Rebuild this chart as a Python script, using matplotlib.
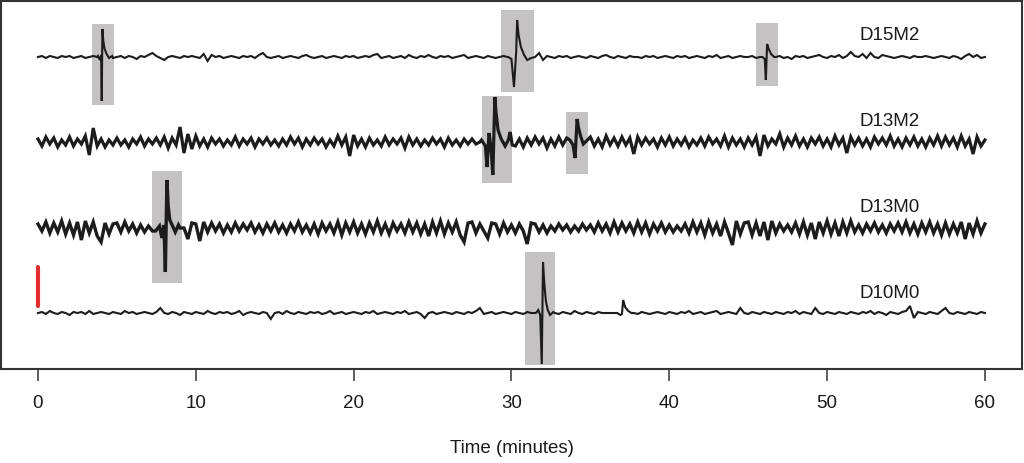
import numpy as np
import matplotlib
matplotlib.use('Agg')
import matplotlib.pyplot as plt
from matplotlib.patches import Rectangle

plt.rcParams['font.family'] = ['Liberation Sans', 'DejaVu Sans']

trace_names = ['D15M2', 'D13M2', 'D13M0', 'D10M0']
baselines = [312, 227, 141, 56]
label_y = [334, 247, 162, 76]
line_widths = [1.5, 2.3, 2.4, 1.5]

# background noise, one value every 0.25 min (0..60)
t_base = np.arange(241) * 0.25

d15m2 = [0, 1, -1, 1, 0, -1, 1, 0, 1, -1, 0, 1, -1, 0, 1, 0, -2, 1, 0, -1,
         0, 1, -1, 1, 0, -2, 1, 0, 2, 4, 1, -1, -3, 0, 1, 0, -1, 1, 0, 1,
         0, -1, 3, -4, 2, 0, 1, -1, 0, 1, 0, -1, 1, 0, 1, -1, 2, 4, 0, -1,
         0, 1, -1, 0, 1, 0, -1, 1, 2, 0, -1, 0, 1, -1, 0, 1, 0, -1, 1, 0,
         1, -1, 0, 1, 0, 2, 3, -1, 0, 1, -1, 0, 1, -1, 2, 0, -1, 1, 0, 2,
         0, -1, 1, 0, 1, -1, 0, 1, 2, -1, 0, 1, 0, -1, 1, 0, -1, 0, 1, 0,
         0, 0, 0, 0, 0, 0, 0, 4, -3, 1, 0, -1, 1, 0, 1, -1, 0, 1, 0, -1,
         1, 0, -1, 1, 2, 0, -1, 1, 0, -1, 1, 0, 0, -1, 1, 0, 1, -1, 0, 1,
         0, -1, 1, 0, 1, -1, 0, 1, 0, -1, 1, 0, 2, -1, 0, 1, -1, 0, 1, 0,
         0, 1, -1, 0, 0, 0, 0, 0, 1, -1, 0, -2, 1, 0, 1, -1, 0, 1, 2, 0,
         -1, 1, 0, 2, -1, 1, 5, 1, 0, 3, -1, 4, 0, -1, 2, 1, 0, -1, 0, 1,
         0, -1, 1, 0, 0, 1, 0, -1, 0, 1, 0, -1, 1, 0, -2, 1, 3, 0, 2, -1,
         0]

d13m2 = [3, -4, 5, -2, 4, -5, 2, -3, 5, -4, 3, -2, 6, -13, 14, -4, 3, -5, 2, -3,
         4, -3, 2, -5, 3, -2, 5, -4, 3, -2, 4, -3, 5, -6, 4, -3, 15, -11, 8, -7,
         6, -4, 3, -5, 4, -2, 3, -4, 2, -3, 5, -4, 3, -2, 4, -5, 3, -2, 4, -3,
         2, -4, 3, -3, 5, -2, 4, -5, 3, -3, 4, -2, 3, -5, 2, -4, 6, -3, 5, -14,
         7, -4, 3, -5, 4, -3, 2, -4, 5, -3, 3, -2, 4, -6, 5, -3, 3, -4, 2, -3,
         4, -2, 3, -5, 4, -3, 2, -4, 3, -2, 3, -2, 0, 0, 0, 0, 0, 0, 0, 0,
         0, -4, 3, -5, 4, -3, 5, -2, 4, -6, 3, -4, 5, -3, 4, -5, 0, 0, 0, -3,
         5, -4, 3, -5, 6, -3, 4, -4, 5, -3, 4, -12, 5, -3, 4, -2, 3, -5, 4, -3,
         5, -4, 3, -3, 4, -5, 2, -3, 4, -4, 5, -2, 3, -4, 6, -5, 4, -3, 3, -5,
         4, -3, 5, -14, 7, -4, 3, -2, 8, -5, 4, -3, 6, -4, 3, -5, 4, -2, 5, -4,
         3, -5, 6, -3, 4, -11, 5, -3, 4, -4, 3, -5, 5, -2, 4, -3, 6, -4, 3, -5,
         4, -3, 5, -4, 3, -5, 4, -3, 6, -4, 5, -3, 4, -5, 6, -4, 3, -12, 5, -4,
         2]

d13m0 = [4, -3, 6, -5, 5, -4, 7, -6, 5, -7, 6, -12, 7, -5, 6, -8, -14, 5, -6, 4,
         5, -4, 6, -3, 4, -5, 3, -4, 2, -3, 0, 0, 0, 0, 0, 0, 0, 0, -11, 5,
         4, -13, 6, -4, 5, -3, 4, -5, 3, -4, 5, -3, 4, -2, 5, -4, 3, -5, 4, -3,
         5, -4, 3, -5, 4, -3, 6, -4, 3, -5, 4, -6, 5, -3, 4, -5, 6, -7, 5, -4,
         6, -5, 4, -6, 5, -4, 7, -5, 4, -6, 5, -3, 4, -5, 6, -4, 5, -6, 4, -8,
         6, -5, 7, -6, 5, -4, 6, -7, -14, 5, 6, -5, 4, -3, -10, 5, 4, -6, 5, -4,
         3, -5, 4, -3, -16, 5, 4, -4, 3, -5, 2, -3, 4, -2, 3, -4, 2, -3, 4, -2,
         3, -4, 5, -3, 4, -5, 6, -4, 5, -3, 4, -5, 6, -4, 5, -6, 4, -3, 5, -4,
         3, -4, 2, -3, 4, -5, 6, -4, 5, -7, 6, -5, 4, -8, 6, -5, -17, 7, -6, 5,
         6, -7, 5, -8, 6, -12, 7, -5, 4, -3, 3, -4, 5, -6, 6, -7, 5, -11, 6, -5,
         7, -6, 5, -8, 6, -5, 7, -4, 3, -5, 4, -3, 5, -4, 3, -5, 4, -3, 5, -4,
         6, -5, 4, -6, 5, -4, 6, -5, 4, -7, 5, -6, 4, -5, 6, -11, 5, -6, 7, -5,
         4]

d10m0 = [0, 1, -1, 2, 0, -1, 1, 0, -2, 1, 0, 1, -1, 2, -1, 0, 1, 0, -1, 1,
         0, -1, 2, 0, 1, -1, 0, 1, 0, -1, 1, 5, 0, -1, 1, 0, -2, 1, 0, -1,
         1, 0, -1, 2, 0, -1, 1, 0, 1, -1, 0, 2, -2, 0, 1, 0, -1, 1, 0, -6,
         0, 1, -1, 2, 0, -1, 1, 0, -1, 1, 0, 1, -1, 0, 2, -1, 0, 1, -1, 0,
         1, 0, -1, 1, 0, 2, -1, 0, 1, 0, -1, 1, 0, 2, -1, 0, 1, -1, -5, 0,
         1, -1, 0, 1, 0, -1, 1, 0, -1, 1, 0, 2, 5, -1, 0, 1, -1, 0, 1, 0,
         -1, 1, 0, -1, 1, 0, 0, 0, 0, 0, 0, 0, -1, 1, 0, -1, 2, 0, -1, 1,
         0, -1, 1, 0, 0, 0, 0, 0, 0, -1, 1, 0, -1, 1, 0, -1, 0, 1, 0, -1,
         1, 0, -1, 1, 0, 2, -1, 0, 1, -1, 0, 1, 2, -1, 0, 1, 0, -1, 5, 0,
         -1, 1, 0, -1, 1, 0, -1, 1, 0, -1, 1, 0, 2, -1, 1, 0, -1, 5, 0, -1,
         1, 0, -1, 1, 0, -1, 1, 0, -1, 1, 0, 2, -1, 1, 0, -2, 1, 0, -1, 1,
         2, 7, -5, 1, 0, -1, 1, 0, -1, 2, 5, 0, -1, 1, 0, -1, 1, 0, -1, 1,
         0]

# spike events: (times, values) per trace
spikes = {
    'D15M2': [([3.80, 3.92, 4.00, 4.04, 4.08, 4.14, 4.22, 4.35, 4.50, 4.70],
               [1, -3, 2, -44, 28, 16, 8, 3, -1, 1]),
              ([29.80, 30.00, 30.16, 30.30, 30.36, 30.45, 30.60, 30.80, 31.00, 31.25],
               [0, -2, -30, 5, 37, 22, 10, 2, -3, -1]),
              ([45.90, 46.05, 46.12, 46.20, 46.30, 46.45, 46.65],
               [0, -2, -23, 13, 8, 3, 0])],
    'D13M2': [([28.10, 28.35, 28.45, 28.58, 28.70, 28.82, 28.95, 29.02, 29.15, 29.35, 29.60, 29.80, 29.92, 30.05],
               [2, -4, -25, 9, -5, -33, 45, 30, 12, 3, -4, 2, 10, -3]),
              ([33.70, 33.90, 34.03, 34.16, 34.25, 34.40, 34.55, 34.75],
               [2, -3, -16, 23, 14, 5, -2, 1])],
    'D13M0': [([7.45, 7.70, 7.85, 7.98, 8.07, 8.17, 8.25, 8.35, 8.50, 8.70, 8.90],
               [-3, 2, -10, 3, -44, 48, 22, 8, 3, -4, 3])],
    'D10M0': [([31.55, 31.70, 31.82, 31.92, 32.00, 32.08, 32.18, 32.30, 32.45, 32.65],
               [0, 3, -2, -51, 51, 30, 12, 3, -2, 1]),
              ([36.70, 36.90, 37.00, 37.08, 37.20, 37.40, 37.60],
               [0, -2, -1, 13, 6, 2, 0])],
}

# highlight boxes: trace, start, end (min), top, bottom (relative to baseline)
box_trace = ['D15M2', 'D15M2', 'D15M2', 'D13M2', 'D13M2', 'D13M0', 'D10M0']
box_t0 = [3.42, 29.34, 45.50, 28.14, 33.46, 7.22, 30.86]
box_t1 = [4.82, 31.43, 46.90, 30.04, 34.85, 9.13, 32.76]
box_top = [33, 47, 34, 46, 30, 57, 61]
box_bot = [-48, -35, -29, -41, -32, -55, -52]

scale_bar = (7, 46)  # red bar, relative to D10M0 baseline

values = {'D15M2': d15m2, 'D13M2': d13m2, 'D13M0': d13m0, 'D10M0': d10m0}

fig = plt.figure(figsize=(10.24, 4.63), dpi=100)
ax = fig.add_axes([1 / 1024, 1 - 369 / 463, 1021 / 1024, 368 / 463])

for name, base, ly, lw in zip(trace_names, baselines, label_y, line_widths):
    t = t_base.copy()
    v = np.array(values[name], dtype=float)
    keep = np.ones(len(t), dtype=bool)
    for st, sv in spikes.get(name, []):
        keep &= ~((t >= st[0]) & (t <= st[-1]))
    t_all = np.concatenate([t[keep]] + [np.array(st) for st, sv in spikes.get(name, [])])
    v_all = np.concatenate([v[keep]] + [np.array(sv, dtype=float) for st, sv in spikes.get(name, [])])
    order = np.argsort(t_all)
    ax.plot(t_all[order], base + v_all[order], color='#1c1c1c', lw=lw, zorder=3,
            solid_joinstyle='miter')
    ax.text(52.08, ly, name, fontsize=13.5, ha='left', va='center', color='#1a1a1a')

for tr, a, b, top, bot in zip(box_trace, box_t0, box_t1, box_top, box_bot):
    base = baselines[trace_names.index(tr)]
    ax.add_patch(Rectangle((a, base + bot), b - a, top - bot,
                           facecolor='#c5c2c4', edgecolor='none', zorder=2))

ax.plot([0, 0], [baselines[3] + scale_bar[0], baselines[3] + scale_bar[1]],
        color='#e03030', lw=3, solid_capstyle='round', zorder=4)

ax.set_xlim(-2.344, 62.35)
ax.set_ylim(0, 368)
ax.set_xticks(range(0, 61, 10))
ax.set_yticks([])
ax.tick_params(axis='x', length=8.6, width=1.1, pad=10, labelsize=13.5,
               color='#333333', labelcolor='#1a1a1a')
for sp in ax.spines.values():
    sp.set_linewidth(1.5)
    sp.set_color('#333333')
ax.set_xlabel('Time (minutes)', fontsize=13.5, labelpad=20, color='#1a1a1a')

fig.savefig('out.png', dpi=100)
